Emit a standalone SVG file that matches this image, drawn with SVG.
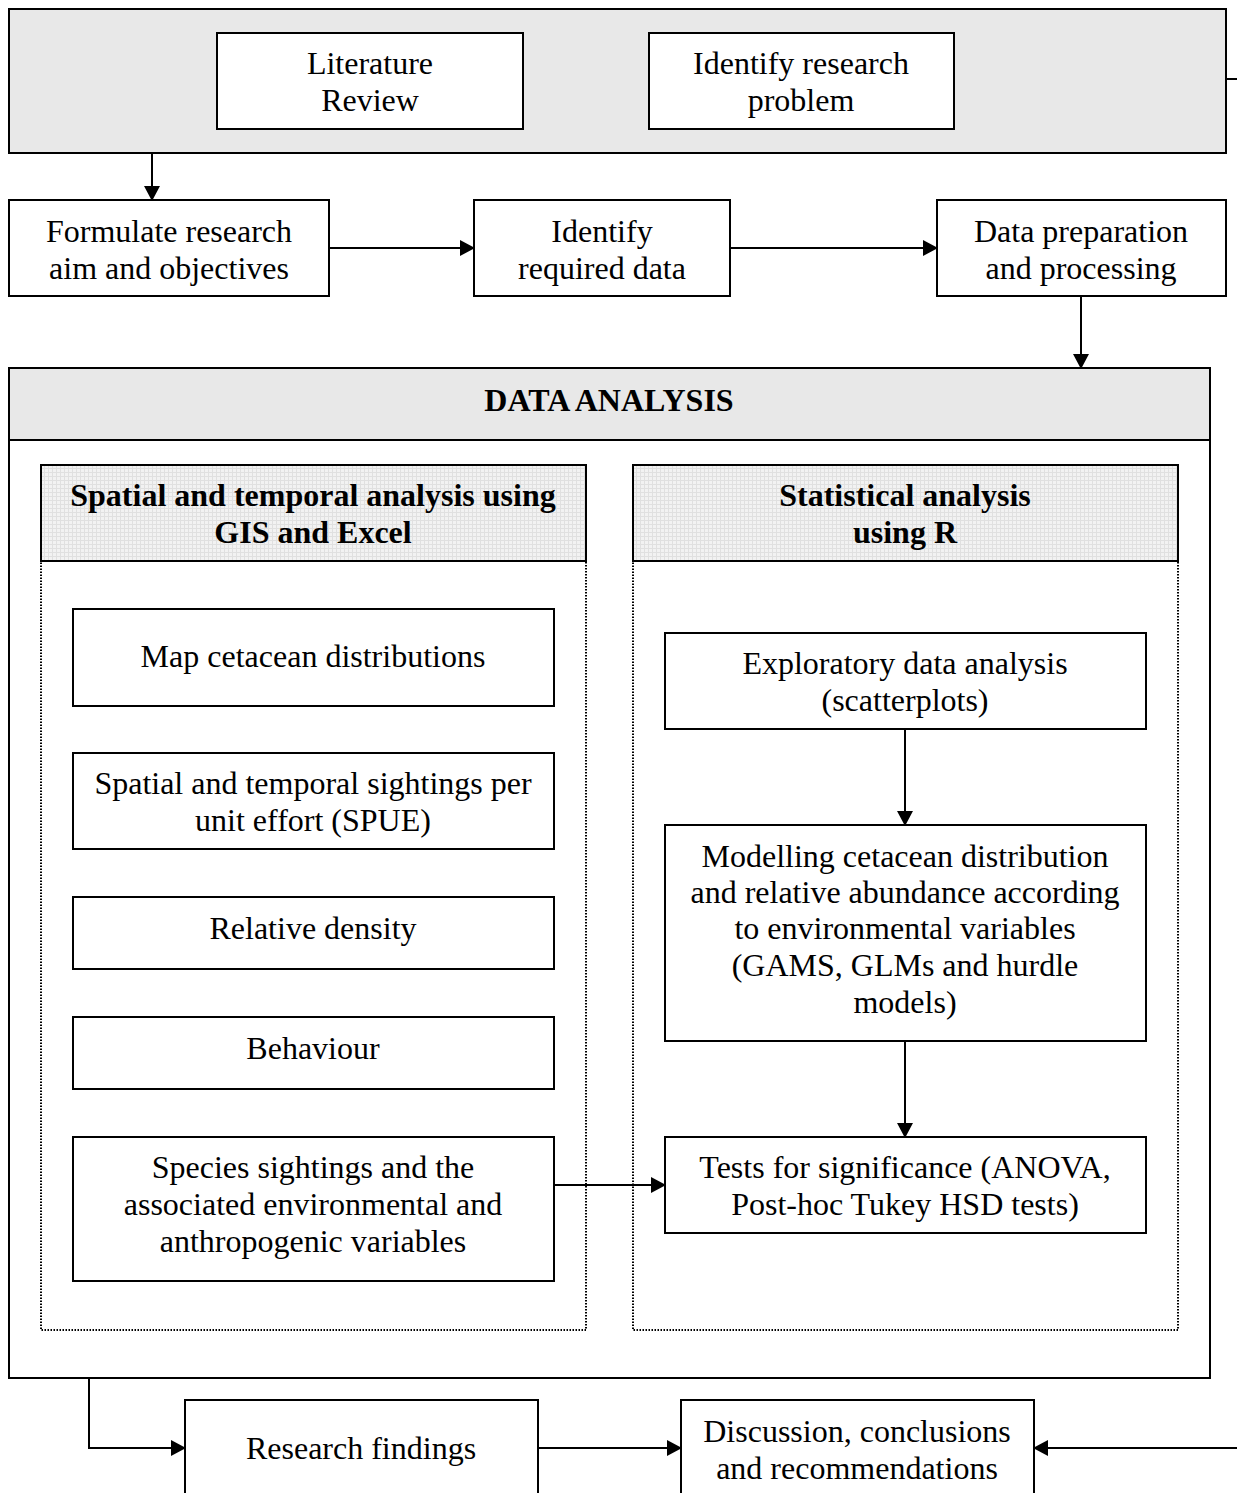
<svg xmlns="http://www.w3.org/2000/svg" width="1237" height="1493" viewBox="0 0 1237 1493">
<style>
  text { font-family: "Liberation Serif", "Times New Roman", serif; font-size: 32px; fill: #000; text-anchor: middle; }
  .b { font-weight: bold; }
  .box { fill: #fff; stroke: #000; stroke-width: 2; }
  .gray { fill: #e8e8e8; stroke: #000; stroke-width: 2; }
  .hdr { fill: url(#grid); stroke: #000; stroke-width: 2; }
  .dot { fill: none; stroke: #000; stroke-width: 2; stroke-dasharray: 1.5 1.5; }
  .conn { fill: none; stroke: #000; stroke-width: 2; }
</style>
<defs>
  <pattern id="grid" width="4" height="4" patternUnits="userSpaceOnUse">
    <rect width="4" height="4" fill="#f2f2f2"/>
    <path d="M0 0.5H4M0.5 0V4" stroke="#e0e0e0" stroke-width="1"/>
  </pattern>
  <marker id="arr" markerWidth="15" markerHeight="16" refX="14" refY="8" orient="auto" markerUnits="userSpaceOnUse">
    <path d="M0 0L15 8L0 16Z" fill="#000"/>
  </marker>
</defs>

<g id="top-panel">
  <rect class="gray" x="9" y="9" width="1217" height="144"/>
</g>
<g id="literature-review">
  <rect class="box" x="217" y="33" width="306" height="96"/>
  <text x="370" y="74">Literature</text>
  <text x="370" y="111">Review</text>
</g>
<g id="identify-problem">
  <rect class="box" x="649" y="33" width="305" height="96"/>
  <text x="801" y="74">Identify research</text>
  <text x="801" y="111">problem</text>
</g>
<g id="formulate">
  <rect class="box" x="9" y="200" width="320" height="96"/>
  <text x="169" y="242">Formulate research</text>
  <text x="169" y="279">aim and objectives</text>
</g>
<g id="identify-data">
  <rect class="box" x="474" y="200" width="256" height="96"/>
  <text x="602" y="242">Identify</text>
  <text x="602" y="279">required data</text>
</g>
<g id="data-prep">
  <rect class="box" x="937" y="200" width="289" height="96"/>
  <text x="1081" y="242">Data preparation</text>
  <text x="1081" y="279">and processing</text>
</g>

<g id="data-analysis">
  <rect class="box" x="9" y="368" width="1201" height="1010"/>
  <rect class="gray" x="9" y="368" width="1201" height="72"/>
  <text class="b" x="609" y="411">DATA ANALYSIS</text>
</g>
<g id="spatial-panel">
  <rect class="dot" x="41" y="561" width="545" height="769"/>
  <rect class="hdr" x="41" y="465" width="545" height="96"/>
  <text class="b" x="313" y="506">Spatial and temporal analysis using</text>
  <text class="b" x="313" y="543">GIS and Excel</text>
</g>
<g id="stat-panel">
  <rect class="dot" x="633" y="561" width="545" height="769"/>
  <rect class="hdr" x="633" y="465" width="545" height="96"/>
  <text class="b" x="905" y="506">Statistical analysis</text>
  <text class="b" x="905" y="543">using R</text>
</g>
<g id="map">
  <rect class="box" x="73" y="609" width="481" height="97"/>
  <text x="313" y="667">Map cetacean distributions</text>
</g>
<g id="spue">
  <rect class="box" x="73" y="753" width="481" height="96"/>
  <text x="313" y="794">Spatial and temporal sightings per</text>
  <text x="313" y="831">unit effort (SPUE)</text>
</g>
<g id="density">
  <rect class="box" x="73" y="897" width="481" height="72"/>
  <text x="313" y="939">Relative density</text>
</g>
<g id="behaviour">
  <rect class="box" x="73" y="1017" width="481" height="72"/>
  <text x="313" y="1059">Behaviour</text>
</g>
<g id="species">
  <rect class="box" x="73" y="1137" width="481" height="144"/>
  <text x="313" y="1178">Species sightings and the</text>
  <text x="313" y="1215">associated environmental and</text>
  <text x="313" y="1252">anthropogenic variables</text>
</g>
<g id="exploratory">
  <rect class="box" x="665" y="633" width="481" height="96"/>
  <text x="905" y="674">Exploratory data analysis</text>
  <text x="905" y="711">(scatterplots)</text>
</g>
<g id="modelling">
  <rect class="box" x="665" y="825" width="481" height="216"/>
  <text x="905" y="867">Modelling cetacean distribution</text>
  <text x="905" y="903">and relative abundance according</text>
  <text x="905" y="939">to environmental variables</text>
  <text x="905" y="976">(GAMS, GLMs and hurdle</text>
  <text x="905" y="1013">models)</text>
</g>
<g id="tests">
  <rect class="box" x="665" y="1137" width="481" height="96"/>
  <text x="905" y="1178">Tests for significance (ANOVA,</text>
  <text x="905" y="1215">Post-hoc Tukey HSD tests)</text>
</g>
<g id="findings">
  <rect class="box" x="185" y="1400" width="353" height="100"/>
  <text x="361" y="1459">Research findings</text>
</g>
<g id="discussion">
  <rect class="box" x="681" y="1400" width="353" height="100"/>
  <text x="857" y="1442">Discussion, conclusions</text>
  <text x="857" y="1479">and recommendations</text>
</g>

<g id="connectors">
  <path class="conn" d="M152 153V200" marker-end="url(#arr)"/>
  <path class="conn" d="M329 248H474" marker-end="url(#arr)"/>
  <path class="conn" d="M730 248H937" marker-end="url(#arr)"/>
  <path class="conn" d="M1081 296V368" marker-end="url(#arr)"/>
  <path class="conn" d="M905 729V825" marker-end="url(#arr)"/>
  <path class="conn" d="M905 1041V1137" marker-end="url(#arr)"/>
  <path class="conn" d="M554 1185H665" marker-end="url(#arr)"/>
  <path class="conn" d="M89 1378V1448H185" marker-end="url(#arr)"/>
  <path class="conn" d="M538 1448H681" marker-end="url(#arr)"/>
  <path class="conn" d="M1237 1448H1034" marker-end="url(#arr)"/>
  <path class="conn" d="M1226 79H1237"/>
</g>
</svg>
